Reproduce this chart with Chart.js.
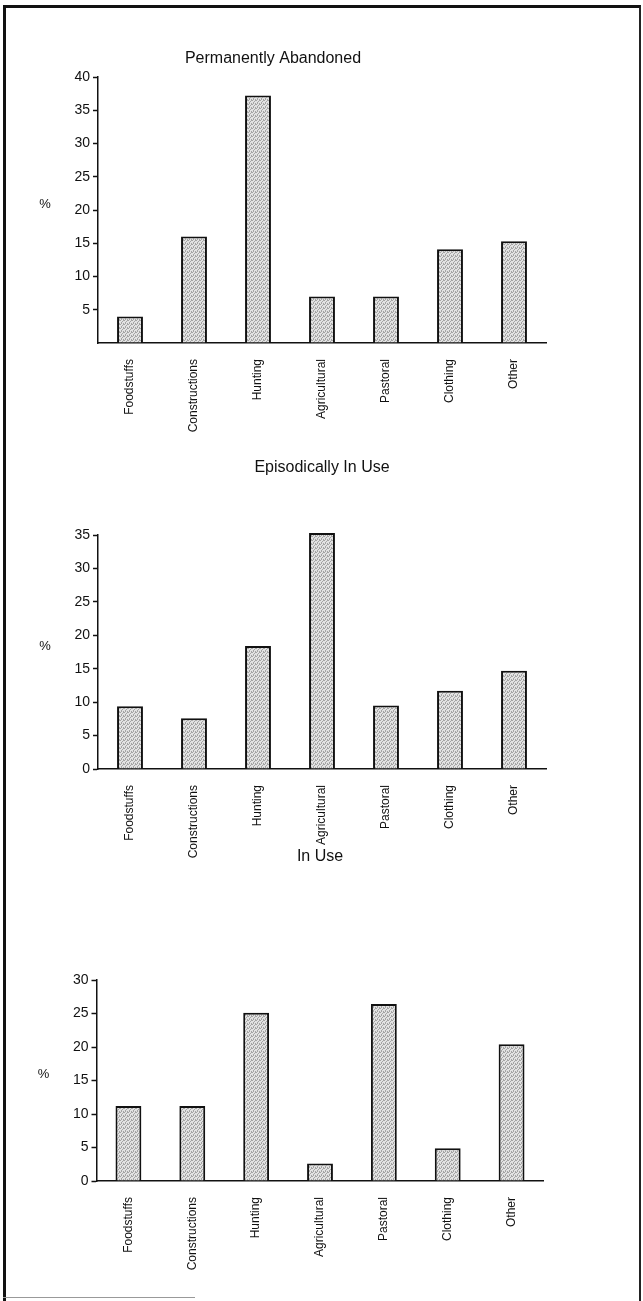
<!DOCTYPE html>
<html>
<head>
<meta charset="utf-8">
<script src="https://cdn.jsdelivr.net/npm/chart.js@4.4.0/dist/chart.umd.min.js"></script>
<style>
  html, body { margin: 0; padding: 0; background: #fff; }
  body { width: 643px; height: 1301px; position: relative; overflow: hidden; }
  .frame {
    position: absolute; left: 3px; top: 5px; width: 633px; height: 1296px;
    border-top: 3px solid #111; border-left: 3px solid #111; border-right: 2px solid #222;
  }
  .foot { position: absolute; left: 3px; top: 1297px; width: 192px; height: 1px; background: #999; }
  canvas { position: absolute; left: 0; }
</style>
</head>
<body>
<div class="frame"></div>
<div class="foot"></div>
<canvas id="c1" width="643" height="440" style="top:0px"></canvas>
<canvas id="c2" width="643" height="460" style="top:420px"></canvas>
<canvas id="c3" width="643" height="490" style="top:800px"></canvas>
<script>
const categories = ['Foodstuffs', 'Constructions', 'Hunting', 'Agricultural', 'Pastoral', 'Clothing', 'Other'];

const abandoned = [4, 16, 37.2, 7, 7, 14.1, 15.3];
const episodic = [9.4, 7.6, 18.4, 35.3, 9.5, 11.7, 14.7];
const inUse = [11.2, 11.2, 25.1, 2.6, 26.4, 4.9, 20.4];

const titles = ['Permanently Abandoned', 'Episodically In Use', 'In Use'];
const yMaxes = [40, 35, 30];
const yStep = 5;
const unitText = '%';

const FONT = '"Liberation Sans", Arial, Helvetica, sans-serif';
const INK = '#111';

// light grey stipple like the printed bars (fixed 4x4 tile)
function stipple() {
  const p = document.createElement('canvas');
  p.width = 4; p.height = 4;
  const g = p.getContext('2d');
  g.fillStyle = '#e2e2e2';
  g.fillRect(0, 0, 4, 4);
  g.fillStyle = '#a4a4a4';
  [[0, 0], [2, 1], [1, 2], [3, 3], [3, 0], [1, 3]].forEach(([x, y]) => g.fillRect(x, y, 1, 1));
  return g.createPattern(p, 'repeat');
}

// the small "%" left of the y axis
const unitLabel = {
  id: 'unitLabel',
  afterDraw(chart, args, opts) {
    const { ctx, chartArea } = chart;
    ctx.save();
    ctx.font = '13px ' + FONT;
    ctx.fillStyle = INK;
    ctx.textAlign = 'center';
    ctx.textBaseline = 'middle';
    ctx.fillText(opts.text, chartArea.left - opts.dx, (chartArea.top + chartArea.bottom) / 2 + opts.dy);
    ctx.restore();
  }
};

const makeChart = (id, title, values, yMax, cfg) => {
  const ctx = document.getElementById(id).getContext('2d');
  return new Chart(ctx, {
    type: 'bar',
    data: {
      labels: categories,
      datasets: [{
        data: values,
        backgroundColor: stipple(),
        borderColor: INK,
        borderWidth: 2,
        borderSkipped: 'bottom',
        barPercentage: 0.9,
        categoryPercentage: 0.45,
        clip: false
      }]
    },
    plugins: [unitLabel],
    options: {
      responsive: false,
      animation: false,
      layout: { padding: { left: 0, right: cfg.padRight, top: 0, bottom: 0 } },
      plugins: {
        legend: { display: false },
        tooltip: { enabled: false },
        title: {
          display: true,
          text: title,
          color: INK,
          fullSize: cfg.fullTitle,
          font: { family: FONT, size: 16, weight: 'normal', lineHeight: 1.2 },
          padding: { top: cfg.titleTop, bottom: cfg.titleBottom }
        },
        unitLabel: { text: unitText, dx: 53, dy: -6 }
      },
      scales: {
        x: {
          offset: true,
          grid: { display: true, drawOnChartArea: false, drawTicks: false },
          border: { color: INK, width: 1.5 },
          ticks: {
            color: INK,
            font: { family: FONT, size: 12 },
            maxRotation: 90,
            minRotation: 90,
            autoSkip: false,
            padding: 16
          },
          afterFit: s => { s.height = cfg.xHeight; }
        },
        y: {
          min: 0,
          max: yMax,
          grid: {
            drawOnChartArea: false,
            tickLength: 5,
            tickWidth: 1.5,
            tickColor: c => (cfg.hideZero && c.tick && c.tick.value === 0) ? 'rgba(0,0,0,0)' : INK
          },
          border: { color: INK, width: 1.5 },
          ticks: {
            stepSize: yStep,
            color: INK,
            padding: 3,
            font: { family: FONT, size: 14 },
            callback: v => (cfg.hideZero && v === 0) ? '' : v
          },
          afterFit: s => { s.width = cfg.yWidth; }
        }
      }
    }
  });
};

makeChart('c1', titles[0], abandoned, yMaxes[0], {
  padRight: 97, fullTitle: true, titleTop: 49.4, titleBottom: 8.4,
  xHeight: 97, yWidth: 98, hideZero: true
});
makeChart('c2', titles[1], episodic, yMaxes[1], {
  padRight: 97, fullTitle: false, titleTop: 38, titleBottom: 57.8,
  xHeight: 111, yWidth: 98, hideZero: false
});
makeChart('c3', titles[2], inUse, yMaxes[2], {
  padRight: 99.5, fullTitle: false, titleTop: 47, titleBottom: 113.8,
  xHeight: 109, yWidth: 96.5, hideZero: false
});
</script>
</body>
</html>
